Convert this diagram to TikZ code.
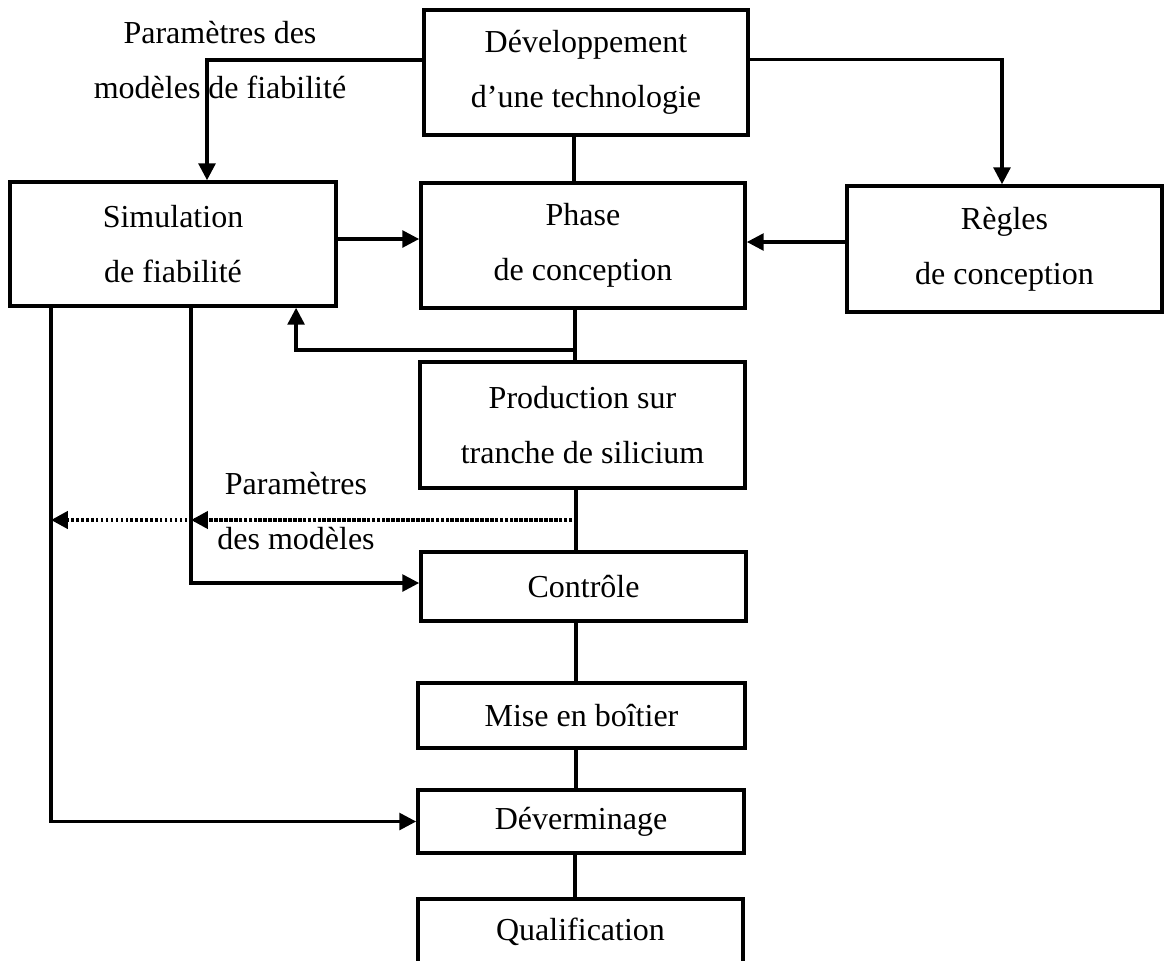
\documentclass[tikz,border=0pt]{standalone}
\usepackage{fontspec}
\setmainfont{Liberation Serif}
\usetikzlibrary{arrows.meta}
\begin{document}
\begin{tikzpicture}[x=0.01cm,y=-0.01cm,
  txt/.style={align=center, inner sep=0pt, font=\fontsize{9.1}{15.6}\selectfont},
  box/.style={txt, draw, line width=1pt},
  conn/.style={line width=0.9pt},
  arr/.style={conn, -{Triangle[length=4.8pt,width=4.8pt]}},
  dotline/.style={arr, line width=1.25pt, dash pattern=on 0.7pt off 0.7pt}]
\useasboundingbox (0,0) rectangle (1164,960);
% boxes
\node[box, minimum width=3.24cm, minimum height=1.25cm] (dev) at (586,72.5) {Développement\\d’une technologie};
\node[box, minimum width=3.26cm, minimum height=1.24cm] (sim) at (173,244) {Simulation\\de fiabilité};
\node[box, minimum width=3.24cm, minimum height=1.25cm] (phase) at (583,245.5) {Phase\\de conception};
\node[box, minimum width=3.15cm, minimum height=1.26cm] (regles) at (1004.5,249) {Règles\\de conception};
\node[box, minimum width=3.25cm, minimum height=1.26cm] (prod) at (582.5,425) {Production sur\\tranche de silicium};
\node[box, minimum width=3.25cm, minimum height=0.69cm] (ctrl) at (583.5,586.5) {Contrôle};
\node[box, minimum width=3.27cm, minimum height=0.65cm] (mise) at (581.5,715.5) {Mise en boîtier};
\node[box, minimum width=3.26cm, minimum height=0.63cm] (dever) at (581,821.5) {Déverminage};
\node[box, minimum width=3.25cm, minimum height=0.66cm] (qual) at (580.5,932) {Qualification};
% labels
\node[txt] (lp1) at (220,60) {Paramètres des\\modèles de fiabilité};
\node[txt] (lp2) at (296,511) {Paramètres\\des modèles};
% connectors
\coordinate (a1) at ([yshift=0.125cm]dev.west);
\coordinate (a1e) at ([xshift=0.34cm]sim.north);
\draw[arr] (a1) -| (a1e);
\coordinate (a2) at ([yshift=0.13cm]dev.east);
\coordinate (a2e) at ([xshift=-0.025cm]regles.north);
\draw[arr] (a2) -| (a2e);
\coordinate (a3) at ([xshift=-0.09cm]phase.north);
\draw[conn] (a3) -- (a3 |- dev.south);
\coordinate (a4) at ([yshift=0.05cm]sim.east);
\draw[arr] (a4) -- (a4 -| phase.west);
\coordinate (a5) at ([yshift=0.07cm]regles.west);
\draw[arr] (a5) -- (a5 -| phase.east);
\coordinate (a6) at ([xshift=-0.08cm]phase.south);
\draw[conn] (a6) -- (a6 |- prod.north);
\coordinate (fbrow) at (0,350);
\coordinate (fbend) at ([xshift=1.23cm]sim.south);
\draw[arr] (a6 |- fbrow) -| (fbend);
\coordinate (a7) at ([xshift=-0.065cm]prod.south);
\draw[conn] (a7) -- (a7 |- ctrl.north);
\coordinate (simA) at ([xshift=-1.22cm]sim.south);
\coordinate (simB) at ([xshift=0.18cm]sim.south);
\coordinate (drow) at (0,520);
\draw[dotline] (a7 |- drow) -- (simA |- drow);
\draw[dotline, dash phase=0.35pt] (a7 |- drow) -- (simB |- drow);
\coordinate (ctrlrow) at ([yshift=0.035cm]ctrl.west);
\draw[arr] (simB) |- (ctrlrow);
\draw[arr] (simA) |- (dever.west);
\coordinate (a8) at ([xshift=-0.075cm]ctrl.south);
\draw[conn] (a8) -- (a8 |- mise.north);
\coordinate (a9) at ([xshift=-0.055cm]mise.south);
\draw[conn] (a9) -- (a9 |- dever.north);
\coordinate (a10) at ([xshift=-0.06cm]dever.south);
\draw[conn] (a10) -- (a10 |- qual.north);
\end{tikzpicture}
\end{document}
